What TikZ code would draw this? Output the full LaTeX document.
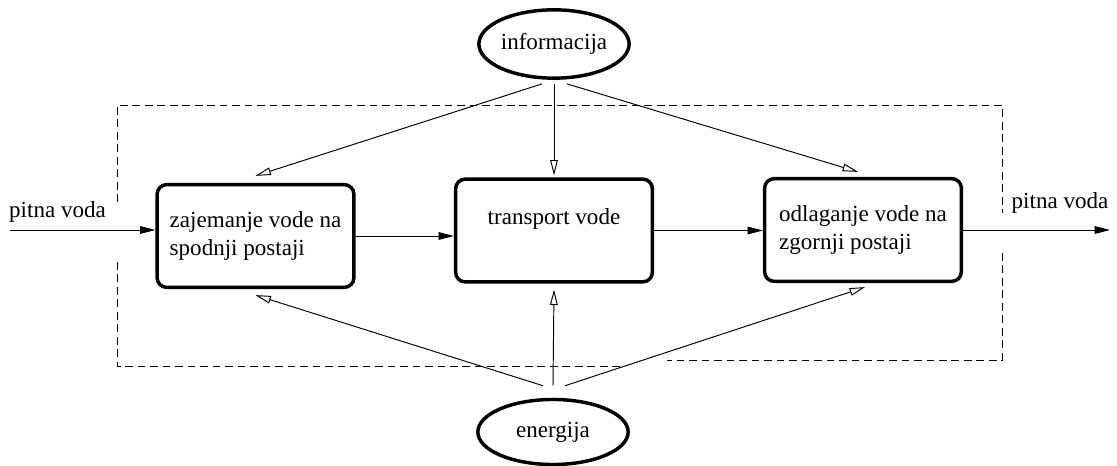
\documentclass[tikz,border=0pt]{standalone}
\usepackage{fontspec}
\setmainfont{Liberation Serif}
\usetikzlibrary{arrows.meta,shapes.geometric,calc}

\begin{document}
\begin{tikzpicture}[
    x=0.0183cm, y=-0.0183cm,
    font=\fontsize{12}{15}\selectfont,
    proc/.style={rectangle, draw, line width=1.8pt, rounded corners=5pt, align=left, minimum width=3.6cm, minimum height=1.88cm},
    res/.style={ellipse, draw, line width=1.8pt, inner sep=0pt},
    flow/.style={-{Triangle[length=8pt,width=4pt]}, line width=0.5pt},
    feed/.style={-{Triangle[open,length=8pt,width=4pt]}, line width=0.5pt},
    frame/.style={line width=0.5pt, dash pattern=on 4pt off 2.5pt},
]
    \useasboundingbox (0,0) rectangle (1117,466);

    % Processes
    \node[proc] (zaj) at (255.5,236) {zajemanje vode na\\spodnji postaji};
    \node[proc] (tra) at (554,230.5) {transport vode\\~};
    \node[proc] (odl) at (863,230) {odlaganje vode na\\zgornji postaji};

    % Information and energy
    \node[res, minimum width=2.67cm, minimum height=1.25cm] (inf) at (554,44) {informacija};
    \node[res, minimum width=2.75cm, minimum height=1.19cm] (ene) at (553,432) {energija};

    % System boundary
    \draw[frame] (117,202) -- (117,105) -- (1002,105) -- (1002,213);
    \draw[frame] (1002,253) -- (1002,360) -- (667,360);
    \draw[frame] (620,366) -- (117,366) -- (117,258);

    % Water flow
    \coordinate (vhod) at (10,230);
    \coordinate (izhod) at (1110,230);
    \node (lvhod) at (57.5,212) {pitna voda};
    \node (lizhod) at (1060,203) {pitna voda};
    \draw[flow] (vhod) -- (vhod -| zaj.west);
    \draw[flow] (zaj.east) -- (zaj.east -| tra.west);
    \draw[flow] (tra.east) -- (tra.east -| odl.west);
    \draw[flow] (odl.east) -- (izhod);

    % Control and supply
    \draw[feed] ($(inf.south)+(-12,4)$) -- ($(zaj.north)+(0,-7)$);
    \draw[feed] ($(inf.south)+(0,4)$) -- ($(tra.north)+(0,-2)$);
    \draw[feed] ($(inf.south)+(13,4)$) -- ($(odl.north)+(-5,-5)$);
    \draw[feed] ($(ene.north)+(-10,-12)$) -- ($(zaj.south)+(0,6)$);
    \draw[feed] ($(ene.north)+(0,-12)$) -- ($(tra.south)+(0,6)$);
    \draw[feed] ($(ene.north)+(12,-12)$) -- ($(odl.south)+(2,4)$);
\end{tikzpicture}
\end{document}
